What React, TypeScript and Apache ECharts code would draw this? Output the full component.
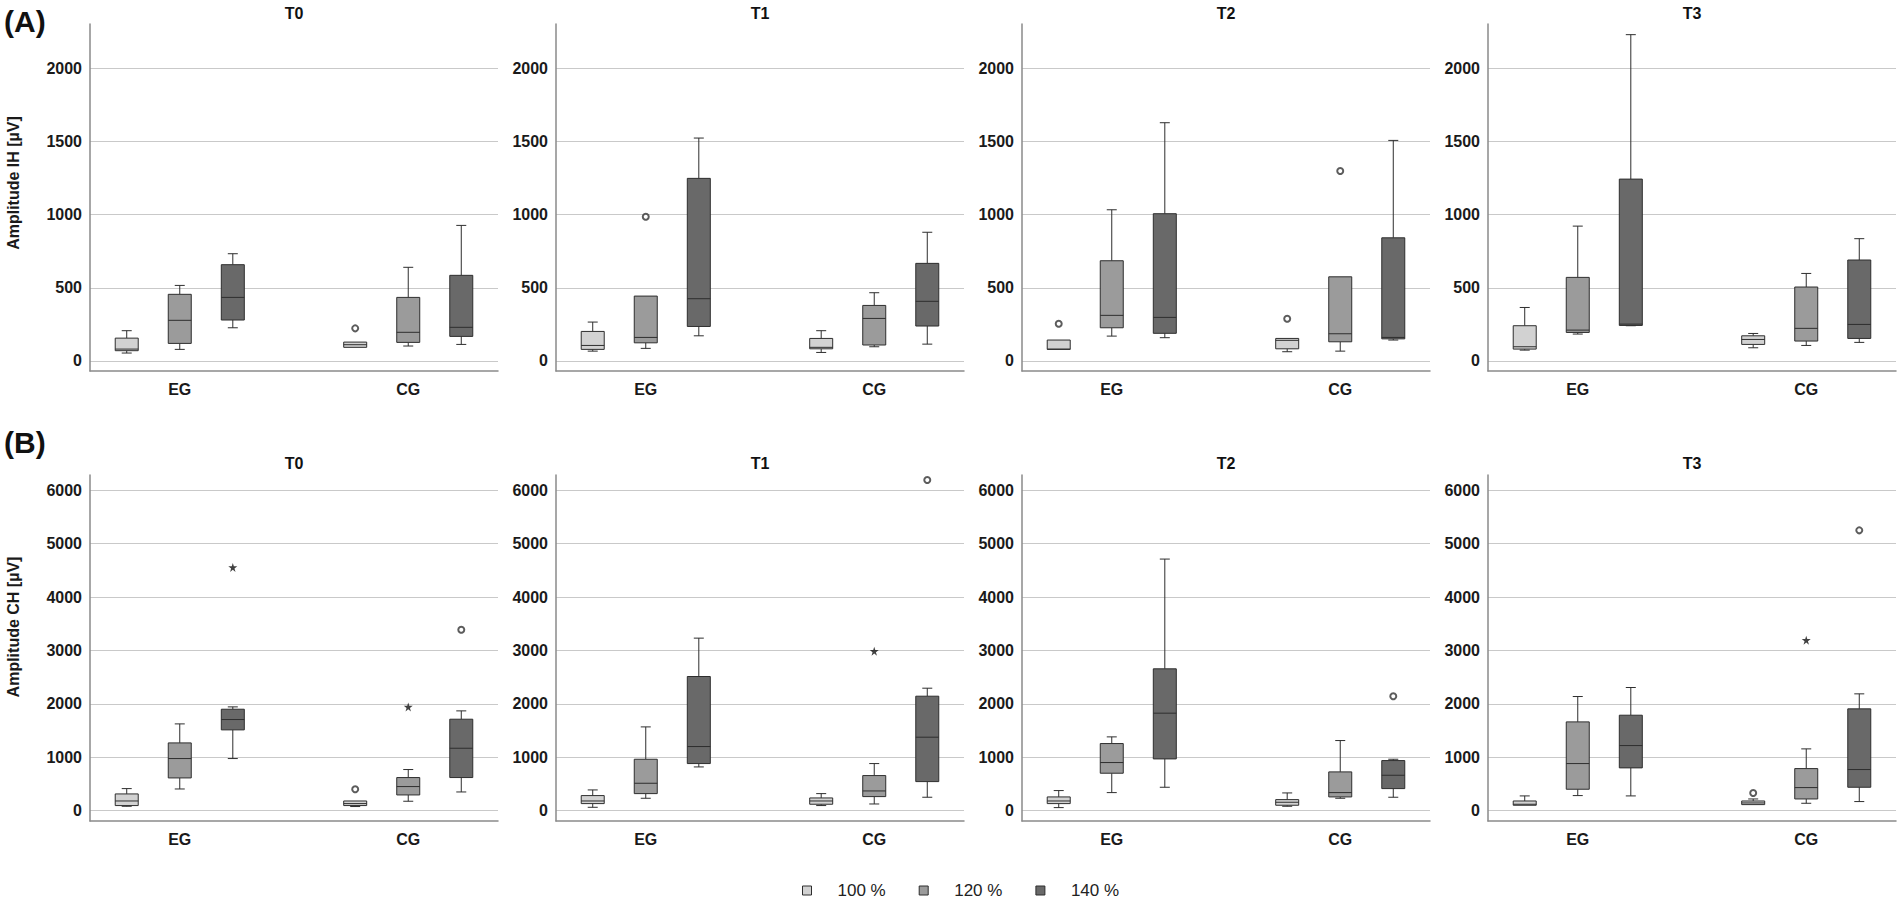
import React, { useEffect, useRef } from "react";
import * as echarts from "echarts";

// ---------- data ----------
const timepoints = ["T0", "T1", "T2", "T3"];
const groups = ["EG", "CG"];
const levels = ["100 %", "120 %", "140 %"];
const ihTicks = [0, 500, 1000, 1500, 2000];
const chTicks = [0, 1000, 2000, 3000, 4000, 5000, 6000];

// boxes: [min, Q1, median, Q3, max]; order EG 100/120/140, CG 100/120/140
const ihT0 = [
  [53, 69, 80, 155, 206], [78, 119, 277, 455, 516], [226, 279, 434, 658, 733],
  [92, 92, 110, 128, 128], [101, 126, 195, 434, 640], [112, 167, 229, 585, 927],
];
const ihT1 = [
  [66, 78, 105, 201, 265], [85, 123, 160, 443, 443], [171, 235, 425, 1249, 1525],
  [57, 82, 92, 153, 206], [96, 108, 290, 379, 466], [114, 238, 407, 667, 880],
];
const ihT2 = [
  [78, 78, 80, 142, 142], [169, 226, 311, 685, 1034], [158, 188, 297, 1007, 1630],
  [62, 82, 140, 153, 153], [66, 130, 185, 575, 575], [142, 150, 160, 842, 1509],
];
const ihT3 = [
  [73, 80, 96, 240, 365], [183, 194, 210, 571, 922], [240, 242, 251, 1244, 2233],
  [89, 112, 146, 171, 187], [105, 135, 222, 505, 598], [126, 153, 249, 690, 836],
];
const chT0 = [
  [81, 94, 180, 312, 412], [405, 612, 975, 1268, 1624], [975, 1512, 1706, 1899, 1943],
  [76, 94, 131, 180, 180], [175, 293, 450, 619, 769], [349, 619, 1168, 1712, 1868],
];
const chT1 = [
  [62, 131, 180, 281, 387], [231, 318, 512, 962, 1568], [818, 881, 1200, 2512, 3231],
  [94, 119, 180, 237, 318], [124, 262, 368, 656, 881], [250, 543, 1375, 2143, 2293],
];
const chT2 = [
  [56, 131, 180, 256, 375], [337, 700, 900, 1256, 1381], [437, 968, 1825, 2656, 4712],
  [81, 100, 156, 206, 331], [231, 256, 337, 725, 1312], [250, 412, 662, 937, 962],
];
const chT3 = [
  [100, 100, 119, 180, 275], [281, 400, 881, 1662, 2137], [275, 800, 1218, 1787, 2306],
  [112, 112, 143, 180, 218], [137, 218, 431, 787, 1156], [169, 437, 769, 1906, 2187],
];

// outliers: [group index, level index, value, kind ("o" = outlier, "*" = extreme)]
const ihT0Out = [[1, 0, 222, "o"]];
const ihT1Out = [[0, 1, 986, "o"]];
const ihT2Out = [[0, 0, 253, "o"], [1, 0, 288, "o"], [1, 1, 1299, "o"]];
const ihT3Out: any[] = [];
const chT0Out = [[0, 2, 4556, "*"], [1, 0, 400, "o"], [1, 1, 1943, "*"], [1, 2, 3387, "o"]];
const chT1Out = [[1, 1, 2987, "*"], [1, 2, 6193, "o"]];
const chT2Out = [[1, 2, 2143, "o"]];
const chT3Out = [[1, 0, 331, "o"], [1, 1, 3193, "*"], [1, 2, 5250, "o"]];

// ---------- styling / layout ----------
const FONT = "'Liberation Sans', Arial, Helvetica, sans-serif";
const fills = ["#d2d2d2", "#9b9b9b", "#696969"];
const STROKE = "#2e2e2e";
const panelLeft = [90, 556, 1022, 1488];
const panelWidth = 408;
const groupCenter = [22, 78]; // x-axis units (0..100)
const levelOffset = [-13, 0, 13];
const STAR =
  "path://M50,0 L61,35 L98,35 L68,57 L79,91 L50,70 L21,91 L32,57 L2,35 L39,35 Z";

const rows = [
  {
    tag: "(A)", tagY: 21, name: "Amplitude IH [µV]", nameY: 183,
    top: 24, height: 347, min: -70, max: 2306, ticks: ihTicks, titleY: 13,
    boxes: [ihT0, ihT1, ihT2, ihT3], outs: [ihT0Out, ihT1Out, ihT2Out, ihT3Out],
  },
  {
    tag: "(B)", tagY: 442, name: "Amplitude CH [µV]", nameY: 627,
    top: 475, height: 346, min: -195, max: 6287, ticks: chTicks, titleY: 463,
    boxes: [chT0, chT1, chT2, chT3], outs: [chT0Out, chT1Out, chT2Out, chT3Out],
  },
];

const renderBox = (params: any, api: any) => {
  const x = api.value(0);
  const v = [1, 2, 3, 4, 5].map((i) => api.value(i));
  const [pMin, pQ1, pMed, pQ3, pMax] = v.map((val) => api.coord([x, val]));
  const cx = pMin[0];
  const half = 11.5;
  const cap = 5;
  const ls = { stroke: STROKE, lineWidth: 1, fill: null };
  const children: any[] = [];
  if (v[4] > v[3]) {
    children.push({ type: "line", shape: { x1: cx, y1: pMax[1], x2: cx, y2: pQ3[1] }, style: ls });
    children.push({ type: "line", shape: { x1: cx - cap, y1: pMax[1], x2: cx + cap, y2: pMax[1] }, style: ls });
  }
  if (v[0] < v[1]) {
    children.push({ type: "line", shape: { x1: cx, y1: pQ1[1], x2: cx, y2: pMin[1] }, style: ls });
    children.push({ type: "line", shape: { x1: cx - cap, y1: pMin[1], x2: cx + cap, y2: pMin[1] }, style: ls });
  }
  children.push({
    type: "rect",
    shape: { x: cx - half, y: pQ3[1], width: half * 2, height: Math.max(pQ1[1] - pQ3[1], 1) },
    style: { fill: api.visual("color"), stroke: STROKE, lineWidth: 1 },
  });
  children.push({ type: "line", shape: { x1: cx - half, y1: pMed[1], x2: cx + half, y2: pMed[1] }, style: ls });
  return { type: "group", children };
};

function buildOption() {
  const grid: any[] = [];
  const xAxis: any[] = [];
  const yAxis: any[] = [];
  const series: any[] = [];
  const graphic: any[] = [];

  rows.forEach((row, r) => {
    graphic.push({
      type: "text", x: 4, y: row.tagY,
      style: { text: row.tag, font: `bold 30px ${FONT}`, fill: "#111", verticalAlign: "middle" },
    });
    graphic.push({
      type: "text", x: 13.5, y: row.nameY, rotation: Math.PI / 2,
      style: { text: row.name, font: `bold 16px ${FONT}`, fill: "#1a1a1a", align: "center", verticalAlign: "middle" },
    });
    timepoints.forEach((tp, p) => {
      const idx = r * 4 + p;
      graphic.push({
        type: "text", x: panelLeft[p] + panelWidth / 2, y: row.titleY,
        style: { text: tp, font: `bold 16px ${FONT}`, fill: "#111", align: "center", verticalAlign: "middle" },
      });
      grid.push({ left: panelLeft[p], top: row.top, width: panelWidth, height: row.height, containLabel: false });
      xAxis.push({
        type: "value", gridIndex: idx, min: 0, max: 100,
        axisLine: { show: true, onZero: false, lineStyle: { color: "#8a8a8a", width: 1.5 } },
        axisTick: { show: false },
        splitLine: { show: false },
        axisLabel: {
          customValues: groupCenter, margin: 10,
          formatter: (val: number) => groups[groupCenter.indexOf(val)] ?? "",
          fontFamily: FONT, fontSize: 16, fontWeight: "bold", color: "#1a1a1a",
        },
      });
      yAxis.push({
        type: "value", gridIndex: idx, min: row.min, max: row.max,
        axisLine: { show: true, onZero: false, lineStyle: { color: "#8a8a8a", width: 1.5 } },
        axisTick: { show: false, customValues: row.ticks },
        splitLine: { show: true, lineStyle: { color: "#c9c9c9", width: 1 } },
        axisLabel: {
          customValues: row.ticks, margin: 8,
          formatter: (val: number) => String(val),
          fontFamily: FONT, fontSize: 16, fontWeight: "bold", color: "#1a1a1a",
        },
      });
      const boxes = row.boxes[p];
      levels.forEach((lv, l) => {
        series.push({
          type: "custom", name: lv, xAxisIndex: idx, yAxisIndex: idx,
          itemStyle: { color: fills[l], borderColor: STROKE, borderWidth: 1 },
          encode: { x: 0, y: [1, 2, 3, 4, 5] },
          renderItem: renderBox,
          silent: true,
          data: groups.map((g, gi) => [groupCenter[gi] + levelOffset[l], ...boxes[gi * 3 + l]]),
        });
      });
      const outs = row.outs[p];
      const circ = outs.filter((o: any) => o[3] === "o").map((o: any) => [groupCenter[o[0]] + levelOffset[o[1]], o[2]]);
      const star = outs.filter((o: any) => o[3] === "*").map((o: any) => [groupCenter[o[0]] + levelOffset[o[1]], o[2]]);
      series.push({
        type: "scatter", name: "outlier", xAxisIndex: idx, yAxisIndex: idx, silent: true,
        symbol: "emptyCircle", symbolSize: 6,
        itemStyle: { color: "#333", borderColor: "#333", borderWidth: 1 },
        data: circ,
      });
      series.push({
        type: "scatter", name: "extreme", xAxisIndex: idx, yAxisIndex: idx, silent: true,
        symbol: STAR, symbolSize: 9,
        itemStyle: { color: "#111" },
        data: star,
      });
    });
  });

  return {
    animation: false,
    backgroundColor: "#fff",
    textStyle: { fontFamily: FONT },
    grid, xAxis, yAxis, series, graphic,
    legend: {
      data: levels, left: 797, top: 877, icon: "rect", itemWidth: 9, itemHeight: 9, itemGap: 33,
      selectedMode: false,
      itemStyle: { borderColor: STROKE, borderWidth: 1 },
      textStyle: { fontFamily: FONT, fontSize: 17, color: "#222", padding: [0, 0, 0, 21] },
    },
  };
}

export default function App() {
  const ref = useRef<HTMLDivElement>(null);
  useEffect(() => {
    if (!ref.current) return;
    const chart = echarts.init(ref.current, null, { renderer: "svg" });
    chart.setOption(buildOption() as any);
    return () => chart.dispose();
  }, []);
  return (
    <div
      ref={ref}
      style={{ position: "absolute", left: 0, top: 0, width: 1902, height: 900, background: "#fff" }}
    />
  );
}
